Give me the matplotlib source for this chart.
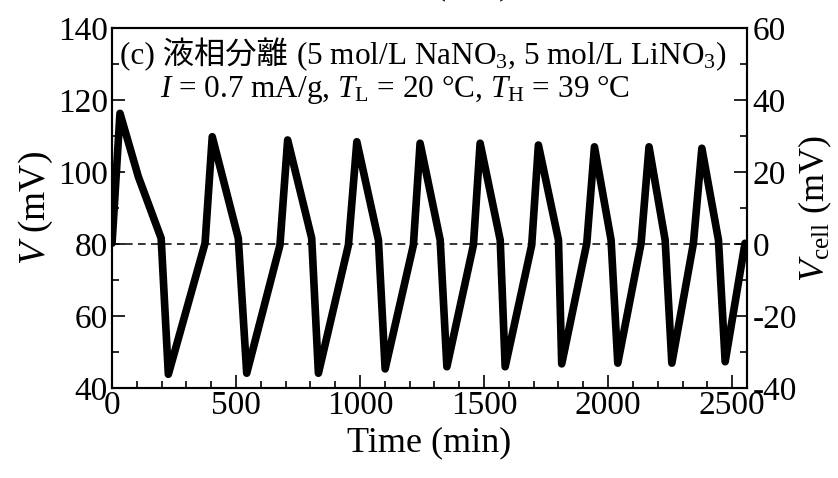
import numpy as np
import matplotlib
matplotlib.use('Agg')
import matplotlib.pyplot as plt
from matplotlib.ticker import MultipleLocator

plt.rcParams['font.family'] = ['Liberation Serif', 'Noto Sans CJK JP']
plt.rcParams['mathtext.fontset'] = 'custom'
plt.rcParams['mathtext.rm'] = 'Liberation Serif'
plt.rcParams['mathtext.it'] = 'Liberation Serif:italic'
plt.rcParams['axes.unicode_minus'] = False

# time (min) and voltage (mV)
time_min = [0, 32, 106, 198, 227, 375, 404, 509, 543, 677, 708, 805, 832,
            953, 987, 1074, 1101, 1215, 1242, 1323, 1350, 1457, 1484, 1565,
            1585, 1692, 1719, 1800, 1813, 1914, 1945, 2012, 2039, 2133, 2165,
            2230, 2257, 2344, 2378, 2445, 2472, 2552]
volt_mV = [80.2, 116.3, 98.7, 81.6, 43.8, 80.2, 109.8, 81.6, 44.1, 79.7, 108.9,
           81.6, 44.1, 79.7, 108.4, 81.1, 45.3, 79.7, 108.0, 81.1, 45.9, 79.7,
           108.0, 81.1, 45.9, 79.7, 107.5, 81.1, 46.7, 80.2, 107.0, 81.1, 46.9,
           80.2, 107.0, 81.1, 46.9, 80.2, 106.6, 81.1, 47.3, 80.2]
v_ref = 80

fig = plt.figure(figsize=(8.38, 4.78), dpi=100)
ax = fig.add_axes([0.1337, 0.1883, 0.7577, 0.7531])

ax.axhline(v_ref, color='k', lw=1.1, ls=(0, (5, 3.5)), zorder=1)
ax.plot(time_min, volt_mV, color='k', lw=5.5, solid_capstyle='round',
        solid_joinstyle='round', zorder=2)

ax.set_xlim(0, 2560)
ax.set_ylim(40, 140)
ax.xaxis.set_major_locator(MultipleLocator(500))
ax.xaxis.set_minor_locator(MultipleLocator(100))
ax.yaxis.set_major_locator(MultipleLocator(20))
ax.yaxis.set_minor_locator(MultipleLocator(10))

ax2 = ax.twinx()
ax2.set_ylim(40 - v_ref, 140 - v_ref)
ax2.yaxis.set_major_locator(MultipleLocator(20))
ax2.yaxis.set_minor_locator(MultipleLocator(10))

for a in (ax, ax2):
    for s in a.spines.values():
        s.set_linewidth(1.5)
    a.tick_params(which='major', direction='in', length=9.5, width=1.2, labelsize=24)
    a.tick_params(which='minor', direction='in', length=5, width=1.2)
ax.tick_params(axis='x', pad=2)
ax.tick_params(axis='y', pad=3)
ax2.tick_params(axis='y', pad=4)

ax.set_xlabel('Time (min)', fontsize=26, labelpad=4)
ax.set_ylabel('$V$ (mV)', fontsize=27, labelpad=2)
ax2.set_ylabel(r'$V_{\mathrm{cell}}$ (mV)', fontsize=26, labelpad=0)

# annotation, first line in two pieces (CJK part + mathtext part)
y1 = (478 - 64) / 478
t1 = fig.text(120 / 838, y1, '(c) 液相分離 ', fontsize=22.5, va='baseline')
fig.canvas.draw()
bb = t1.get_window_extent()
x2 = fig.transFigure.inverted().transform((bb.x1, bb.y0))[0]
fig.text(x2, y1, r'(5 mol/L NaNO$_3$, 5 mol/L LiNO$_3$)', fontsize=22.5, va='baseline')
fig.text(160 / 838, (478 - 97) / 478,
         r'$I$ = 0.7 mA/g, $T_{\mathrm{L}}$ = 20 °C, $T_{\mathrm{H}}$ = 39 °C',
         fontsize=22.5, va='baseline')

# label of the panel above, cut by the top edge
fig.text(472 / 838, 1.013, '(mV)', fontsize=26, ha='center', va='baseline')

fig.savefig('out.png', dpi=100)
